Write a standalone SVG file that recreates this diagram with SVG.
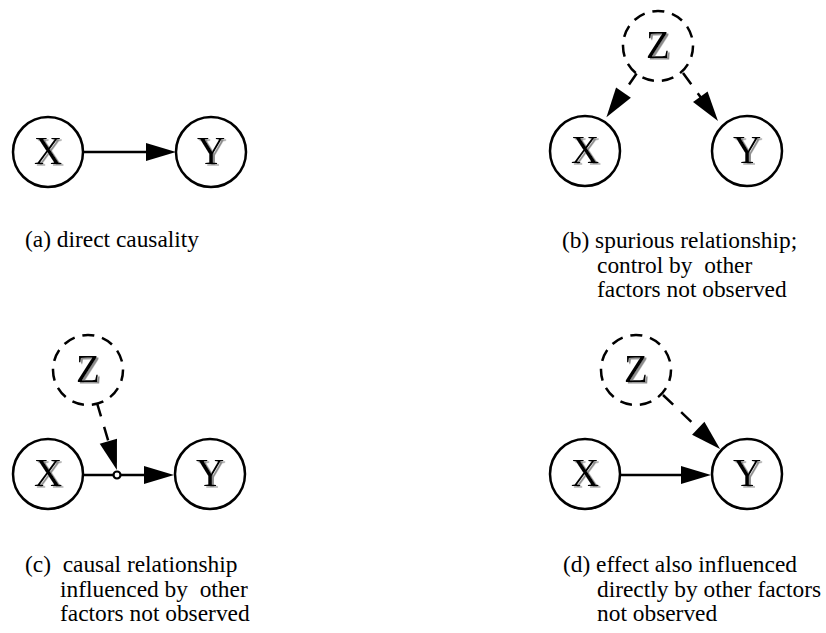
<svg xmlns="http://www.w3.org/2000/svg" width="826" height="633" viewBox="0 0 826 633">
<defs>
<style>
.n{fill:#fff;stroke:#000;stroke-width:2.5}
.h{fill:#fff;stroke:#000;stroke-width:2.5;stroke-dasharray:12 8;stroke-dashoffset:1}
.lt{font-family:"Liberation Serif","Times New Roman",serif;font-size:39px;text-anchor:middle;fill:#000;filter:url(#shadow)}
.e{fill:none;stroke:#000;stroke-width:2.5}
.d{fill:none;stroke:#000;stroke-width:2.5;stroke-dasharray:14 11}
.cap{font-family:"Liberation Serif","Times New Roman",serif;font-size:23.4px;fill:#000;white-space:pre}
</style>
<filter id="shadow" x="-20%" y="-20%" width="140%" height="140%">
<feDropShadow dx="2" dy="1.5" stdDeviation="0.3" flood-color="#8c8c8c" flood-opacity="1"/>
</filter>
<marker id="arr" markerUnits="userSpaceOnUse" markerWidth="32" markerHeight="20" refX="10" refY="9" orient="auto" overflow="visible">
<path d="M0,0 L30,9 L0,18 z" fill="#000" stroke="none"/>
</marker>
</defs>
<rect width="826" height="633" fill="#fff"/>

<g id="connectors">
<line class="e" x1="83" y1="152" x2="156" y2="152" marker-end="url(#arr)"/>
<line class="d" x1="637" y1="73" x2="617.8" y2="100.8" marker-end="url(#arr)"/>
<line class="d" x1="683" y1="73" x2="706.2" y2="104.8" marker-end="url(#arr)"/>
<line class="d" x1="97" y1="403" x2="111.2" y2="450.8" marker-end="url(#arr)"/>
<line class="e" x1="83" y1="475" x2="113.5" y2="475"/>
<line class="e" x1="120.5" y1="475" x2="154" y2="475" marker-end="url(#arr)"/>
<line class="e" x1="621" y1="475" x2="691" y2="475" marker-end="url(#arr)"/>
<line class="d" x1="663" y1="395" x2="705.5" y2="435.2" marker-end="url(#arr)"/>
<circle cx="117" cy="475" r="3.5" fill="#fff" stroke="#000" stroke-width="2.2"/>
</g>

<g id="a-X"><circle class="n" cx="48" cy="152" r="35"/><text class="lt" x="48" y="164">X</text></g>
<g id="a-Y"><circle class="n" cx="211" cy="152" r="35"/><text class="lt" x="211" y="164">Y</text></g>

<g id="b-Z"><circle class="h" cx="658" cy="46" r="35"/><text class="lt" x="658" y="58">Z</text></g>
<g id="b-X"><circle class="n" cx="585" cy="151" r="35"/><text class="lt" x="585" y="163">X</text></g>
<g id="b-Y"><circle class="n" cx="747" cy="151" r="35"/><text class="lt" x="747" y="163">Y</text></g>

<g id="c-Z"><circle class="h" cx="88" cy="370" r="35"/><text class="lt" x="88" y="382">Z</text></g>
<g id="c-X"><circle class="n" cx="48" cy="474" r="35"/><text class="lt" x="48" y="486">X</text></g>
<g id="c-Y"><circle class="n" cx="210" cy="474" r="35"/><text class="lt" x="210" y="486">Y</text></g>

<g id="d-Z"><circle class="h" cx="636" cy="370" r="35"/><text class="lt" x="636" y="382">Z</text></g>
<g id="d-X"><circle class="n" cx="585" cy="474" r="35"/><text class="lt" x="585" y="486">X</text></g>
<g id="d-Y"><circle class="n" cx="747" cy="474" r="35"/><text class="lt" x="747" y="486">Y</text></g>

<g id="captions">
<text class="cap" x="25" y="247">(a) direct causality</text>
<text class="cap" x="562" y="248">(b) spurious relationship;</text>
<text class="cap" x="597" y="272.5">control by  other</text>
<text class="cap" x="597" y="297">factors not observed</text>
<text class="cap" x="25" y="572">(c)  causal relationship</text>
<text class="cap" x="60" y="596.5">influenced by  other</text>
<text class="cap" x="60" y="621">factors not observed</text>
<text class="cap" x="563" y="572">(d) effect also influenced</text>
<text class="cap" x="597" y="596.5">directly by other factors</text>
<text class="cap" x="597" y="621">not observed</text>
</g>
</svg>
